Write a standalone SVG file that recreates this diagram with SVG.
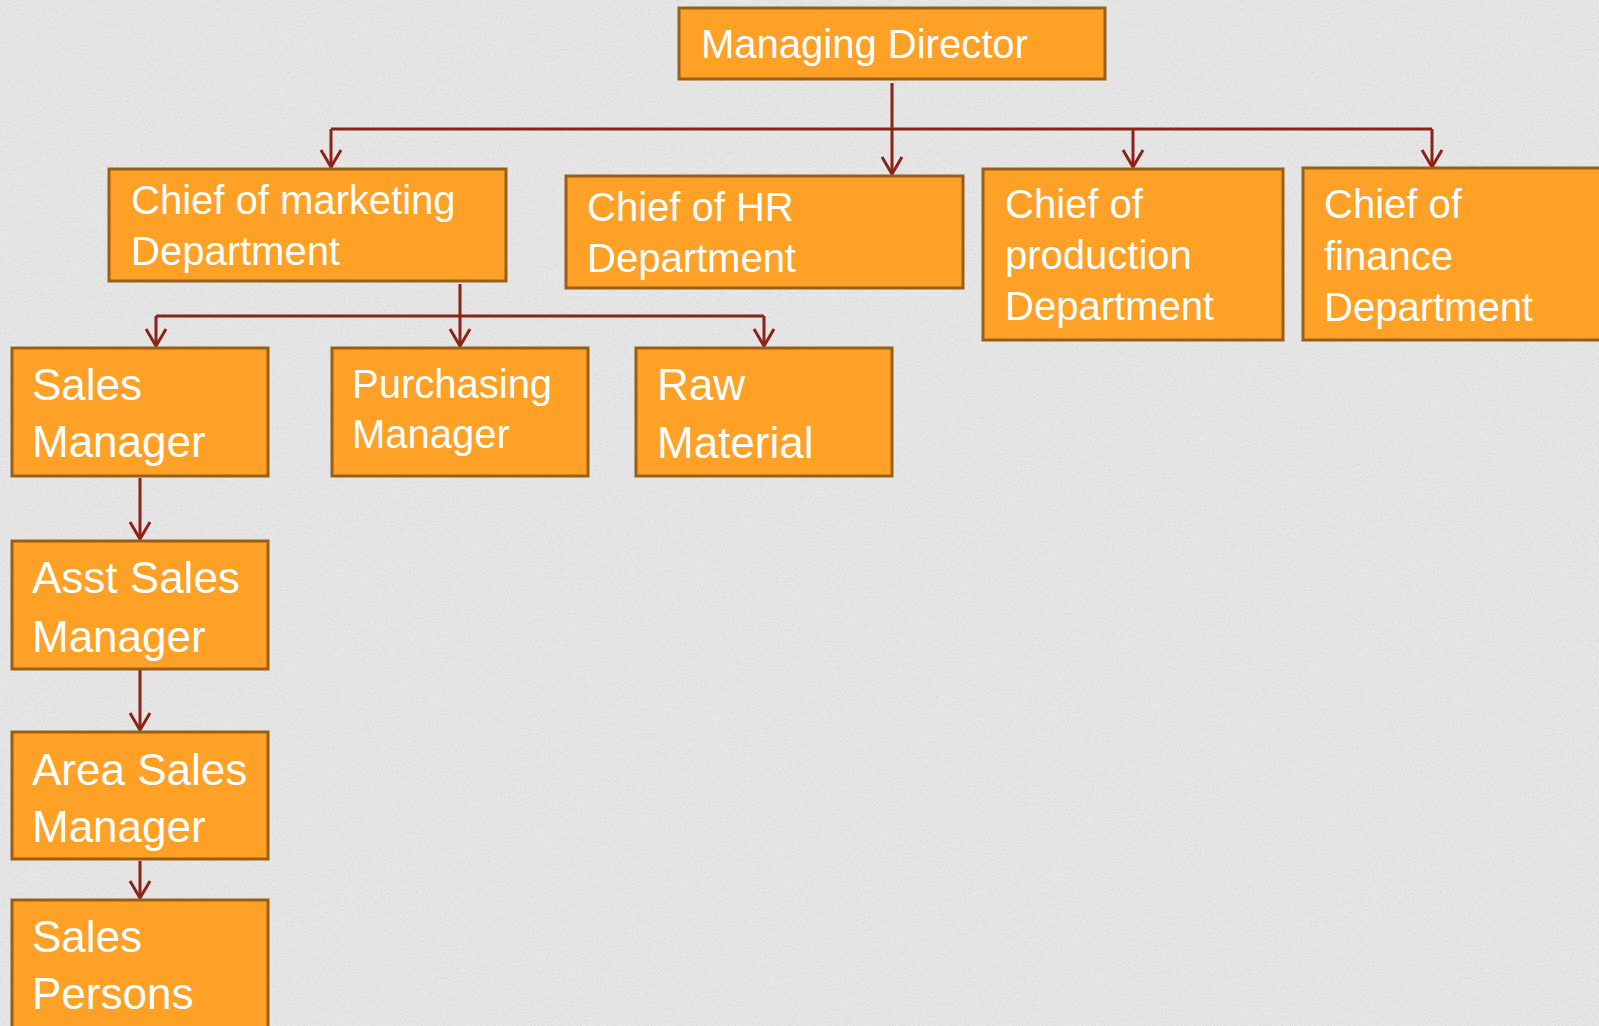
<svg xmlns="http://www.w3.org/2000/svg" width="1599" height="1026" viewBox="0 0 1599 1026">
  <defs>
    <style>
      .box { fill: #FEA126; stroke: #9A5F17; stroke-width: 3; }
      .t { font-family: "Liberation Sans", Arial, sans-serif; fill: #FFFFFF; font-size: 40px; }
      .tl { font-size: 44px; }
      .c { fill: none; stroke: #8C2219; stroke-width: 3; }
      .a { fill: none; stroke: #8C2219; stroke-width: 3; marker-end: url(#arr); }
    </style>
    <marker id="arr" markerUnits="userSpaceOnUse" markerWidth="24" markerHeight="26" viewBox="-20 -13 24 26" refX="0" refY="0" orient="auto" overflow="visible">
      <path d="M -17 -10 L 0 0 L -17 10" fill="none" stroke="#8C2219" stroke-width="3"/>
    </marker>
    <filter id="noise" x="0" y="0" width="100%" height="100%">
      <feTurbulence type="fractalNoise" baseFrequency="0.75" numOctaves="2" seed="7" result="t"/>
      <feColorMatrix in="t" type="matrix" values="0 0 0 0 0.45  0 0 0 0 0.45  0 0 0 0 0.45  1.8 0 0 0 -0.8"/>
    </filter>
  </defs>

  <rect x="0" y="0" width="1599" height="1026" fill="#E8E8E8"/>
  <rect x="0" y="0" width="1599" height="1026" filter="url(#noise)" opacity="0.5"/>

  <g id="connectors">
    <path class="c" d="M 331 129 L 1432 129"/>
    <path class="a" d="M 892 83 L 892 174"/>
    <path class="a" d="M 331 129 L 331 167"/>
    <path class="a" d="M 1133 129 L 1133 167"/>
    <path class="a" d="M 1432 129 L 1432 167"/>
    <path class="c" d="M 156 316 L 764 316"/>
    <path class="a" d="M 460 284 L 460 346"/>
    <path class="a" d="M 156 316 L 156 346"/>
    <path class="a" d="M 764 316 L 764 346"/>
    <path class="a" d="M 140 478 L 140 539"/>
    <path class="a" d="M 140 670 L 140 730"/>
    <path class="a" d="M 140 861 L 140 898"/>
  </g>

  <g id="managing-director">
    <rect class="box" x="679" y="8" width="426" height="71"/>
    <text class="t" x="701" y="58">Managing Director</text>
  </g>

  <g id="chief-marketing">
    <rect class="box" x="109" y="169" width="397" height="112"/>
    <text class="t" x="131" y="214">Chief of marketing</text>
    <text class="t" x="131" y="265">Department</text>
  </g>

  <g id="chief-hr">
    <rect class="box" x="566" y="176" width="397" height="112"/>
    <text class="t" x="587" y="221">Chief of HR</text>
    <text class="t" x="587" y="272">Department</text>
  </g>

  <g id="chief-production">
    <rect class="box" x="983" y="169" width="300" height="171"/>
    <text class="t" x="1005" y="218">Chief of</text>
    <text class="t" x="1005" y="269">production</text>
    <text class="t" x="1005" y="320">Department</text>
  </g>

  <g id="chief-finance">
    <rect class="box" x="1303" y="168" width="310" height="172"/>
    <text class="t" x="1324" y="218">Chief of</text>
    <text class="t" x="1324" y="270">finance</text>
    <text class="t" x="1324" y="321">Department</text>
  </g>

  <g id="sales-manager">
    <rect class="box" x="12" y="348" width="256" height="128"/>
    <text class="t tl" x="32" y="400">Sales</text>
    <text class="t tl" x="32" y="457">Manager</text>
  </g>

  <g id="purchasing-manager">
    <rect class="box" x="332" y="348" width="256" height="128"/>
    <text class="t" x="352" y="398">Purchasing</text>
    <text class="t" x="352" y="448">Manager</text>
  </g>

  <g id="raw-material">
    <rect class="box" x="636" y="348" width="256" height="128"/>
    <text class="t tl" x="657" y="400">Raw</text>
    <text class="t tl" x="657" y="458">Material</text>
  </g>

  <g id="asst-sales-manager">
    <rect class="box" x="12" y="541" width="256" height="128"/>
    <text class="t tl" x="32" y="593">Asst Sales</text>
    <text class="t tl" x="32" y="652">Manager</text>
  </g>

  <g id="area-sales-manager">
    <rect class="box" x="12" y="732" width="256" height="127"/>
    <text class="t tl" x="32" y="785">Area Sales</text>
    <text class="t tl" x="32" y="842">Manager</text>
  </g>

  <g id="sales-persons">
    <rect class="box" x="12" y="900" width="256" height="140"/>
    <text class="t tl" x="32" y="952">Sales</text>
    <text class="t tl" x="32" y="1009">Persons</text>
  </g>
</svg>
